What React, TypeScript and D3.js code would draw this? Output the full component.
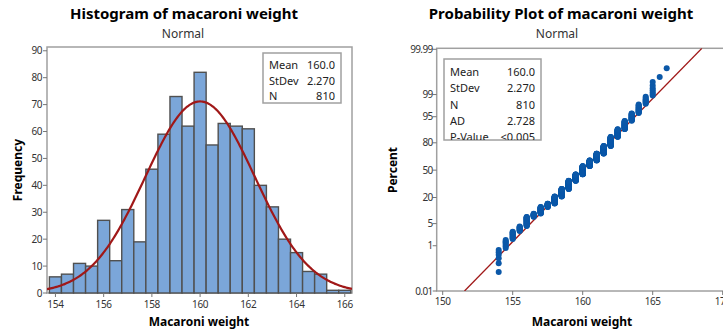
import * as d3 from "d3";
import React, { useEffect } from "react";

// histogram bins (centres every 0.5) and their counts
const binCenters = [154, 154.5, 155, 155.5, 156, 156.5, 157, 157.5, 158, 158.5, 159, 159.5, 160,
  160.5, 161, 161.5, 162, 162.5, 163, 163.5, 164, 164.5, 165, 165.5, 166];
const binCounts = [6, 7, 11, 10, 27, 12, 31, 19, 46, 59, 73, 62, 82,
  55, 63, 62, 61, 40, 32, 20, 15, 8, 7, 1, 1];
const binWidth = 0.5;

const statLabels = ["Mean", "StDev", "N"];
const statValues = ["160.0", "2.270", "810"];
const probLabels = ["Mean", "StDev", "N", "AD", "P-Value"];
const probValues = ["160.0", "2.270", "810", "2.728", "<0.005"];

const mean = 160.0;
const sd = 2.27;
const total = 810;

const histXTicks = [154, 156, 158, 160, 162, 164, 166];
const histYTicks = [0, 10, 20, 30, 40, 50, 60, 70, 80, 90];
const probXTicks = [150, 155, 160, 165, 170];
const probYTicks = [0.01, 1, 5, 20, 50, 80, 95, 99, 99.99];

const FONT = "'Noto Sans', 'Open Sans', sans-serif";
const FRAME = "#a0a0a0";
const RED = "#a01818";
const BLUE = "#0b58a8";

// inverse normal cdf (Acklam)
function qnorm(p: number) {
  const a = [-39.69683028665376, 220.9460984245205, -275.9285104469687, 138.357751867269, -30.66479806614716, 2.506628277459239];
  const b = [-54.47609879822406, 161.5858368580409, -155.6989798598866, 66.80131188771972, -13.28068155288572];
  const c = [-0.007784894002430293, -0.3223964580411365, -2.400758277161838, -2.549732539343734, 4.374664141464968, 2.938163982698783];
  const d = [0.007784695709041462, 0.3224671290700398, 2.445134137142996, 3.754408661907416];
  const pl = 0.02425;
  if (p < pl) {
    const q = Math.sqrt(-2 * Math.log(p));
    return (((((c[0] * q + c[1]) * q + c[2]) * q + c[3]) * q + c[4]) * q + c[5]) / ((((d[0] * q + d[1]) * q + d[2]) * q + d[3]) * q + 1);
  }
  if (p > 1 - pl) {
    const q = Math.sqrt(-2 * Math.log(1 - p));
    return -(((((c[0] * q + c[1]) * q + c[2]) * q + c[3]) * q + c[4]) * q + c[5]) / ((((d[0] * q + d[1]) * q + d[2]) * q + d[3]) * q + 1);
  }
  const q = p - 0.5;
  const r = q * q;
  return (((((a[0] * r + a[1]) * r + a[2]) * r + a[3]) * r + a[4]) * r + a[5]) * q / (((((b[0] * r + b[1]) * r + b[2]) * r + b[3]) * r + b[4]) * r + 1);
}

function Histogram() {
  const left = 47, right = 352, top = 47, bottom = 293;
  const x = d3.scaleLinear().domain([153.65, 166.3]).range([left, right]);
  const y = d3.scaleLinear().domain([0, 91.4]).range([bottom, top]);
  const pdf = (v: number) => total * binWidth * Math.exp(-0.5 * ((v - mean) / sd) ** 2) / (sd * Math.sqrt(2 * Math.PI));
  const curvePts = d3.range(153.65, 166.31, 0.05);
  const curve = d3.line<number>().x((v) => x(v)).y((v) => y(pdf(v)))(curvePts);

  return (
    <g fontFamily={FONT}>
      <text x={184} y={19} textAnchor="middle" fontWeight="bold" fontSize={15}>Histogram of macaroni weight</text>
      <text x={183} y={38} textAnchor="middle" fontSize={12} fill="#333">Normal</text>
      <rect x={left} y={top} width={right - left} height={bottom - top} fill="white" stroke={FRAME} strokeWidth={1.5} />
      <clipPath id="hclip"><rect x={left} y={top} width={right - left} height={bottom - top} /></clipPath>
      {binCenters.map((c, i) => (
        <rect key={i} x={x(c - binWidth / 2)} y={y(binCounts[i])}
          width={x(c + binWidth / 2) - x(c - binWidth / 2)} height={y(0) - y(binCounts[i])}
          fill="#7ba6d9" stroke="#505050" strokeWidth={1.4} />
      ))}
      <path d={curve || ""} fill="none" stroke={RED} strokeWidth={2.2} clipPath="url(#hclip)" />
      {histYTicks.map((t) => (
        <g key={t}>
          <line x1={left - 4} x2={left} y1={y(t)} y2={y(t)} stroke="#777" />
          <text x={left - 5} y={y(t) + 3.5} textAnchor="end" fontSize={10} fill="#333" letterSpacing={-0.5}>{t}</text>
        </g>
      ))}
      {histXTicks.map((t) => (
        <g key={t}>
          <line x1={x(t)} x2={x(t)} y1={bottom} y2={bottom + 4} stroke="#777" />
          <text x={x(t)} y={bottom + 15} textAnchor="middle" fontSize={10} fill="#333" letterSpacing={-0.3}>{t}</text>
        </g>
      ))}
      <text x={199} y={326} textAnchor="middle" fontWeight="bold" fontSize={12}>Macaroni weight</text>
      <text transform="translate(22,170) rotate(-90)" textAnchor="middle" fontWeight="bold" fontSize={12}>Frequency</text>
      <rect x={263} y={53} width={78} height={50} fill="white" stroke={FRAME} strokeWidth={1.5} />
      {statLabels.map((l, i) => (
        <g key={l} fontSize={11} fill="#222">
          <text x={269} y={69 + i * 15.5}>{l}</text>
          <text x={335} y={69 + i * 15.5} textAnchor="end">{statValues[i]}</text>
        </g>
      ))}
    </g>
  );
}

function ProbPlot() {
  const left = 436.7, top = 48.3, bottom = 291, right = 745;
  const x = d3.scaleLinear().domain([150, 170]).range([442.7, 722.7]);
  const y = d3.scaleLinear().domain([qnorm(0.0001), 3.75]).range([bottom, top]);

  // each observation plotted at its bin value, median ranks
  const pts: { v: number; z: number }[] = [];
  let rank = 0;
  binCenters.forEach((c, i) => {
    for (let k = 0; k < binCounts[i]; k++) {
      rank += 1;
      pts.push({ v: c, z: qnorm((rank - 0.3) / (total + 0.4)) });
    }
  });
  const zLo = qnorm(0.0001);
  const fitLine = [mean + zLo * sd, mean + 3.75 * sd];

  return (
    <g fontFamily={FONT}>
      <text x={561} y={19} textAnchor="middle" fontWeight="bold" fontSize={15}>Probability Plot of macaroni weight</text>
      <text x={557} y={38} textAnchor="middle" fontSize={12} fill="#333">Normal</text>
      <rect x={left} y={top} width={right - left} height={bottom - top} fill="white" stroke={FRAME} strokeWidth={1.5} />
      <clipPath id="pclip"><rect x={left} y={top} width={right - left} height={bottom - top} /></clipPath>
      <g clipPath="url(#pclip)">
        <line x1={x(fitLine[0])} y1={y(zLo)} x2={x(fitLine[1])} y2={y(3.75)} stroke={RED} strokeWidth={1.3} />
        {pts.map((p, i) => (
          <circle key={i} cx={x(p.v)} cy={y(p.z)} r={3} fill={BLUE} />
        ))}
      </g>
      {probYTicks.map((t) => (
        <g key={t}>
          <line x1={left - 4} x2={left} y1={y(qnorm(t / 100))} y2={y(qnorm(t / 100))} stroke="#777" />
          <text x={left - 4} y={y(qnorm(t / 100)) + 3.5} textAnchor="end" fontSize={10} fill="#333" letterSpacing={-0.6}>{t}</text>
        </g>
      ))}
      {probXTicks.map((t) => (
        <g key={t}>
          <line x1={x(t)} x2={x(t)} y1={bottom} y2={bottom + 4} stroke="#777" />
          <text x={x(t)} y={bottom + 14} textAnchor="middle" fontSize={10} fill="#333" letterSpacing={-0.4}>{t}</text>
        </g>
      ))}
      <text x={582} y={326} textAnchor="middle" fontWeight="bold" fontSize={12}>Macaroni weight</text>
      <text transform="translate(397,170) rotate(-90)" textAnchor="middle" fontWeight="bold" fontSize={12}>Percent</text>
      <clipPath id="lclip"><rect x={444} y={59} width={97} height={81} /></clipPath>
      <rect x={444} y={59} width={97} height={81} fill="white" stroke={FRAME} strokeWidth={1.5} />
      <g clipPath="url(#lclip)">
        {probLabels.map((l, i) => (
          <g key={l} fontSize={11} fill="#222">
            <text x={450} y={76 + i * 16.3}>{l}</text>
            <text x={535} y={76 + i * 16.3} textAnchor="end">{probValues[i]}</text>
          </g>
        ))}
      </g>
    </g>
  );
}

export default function App() {
  useEffect(() => {
    document.body.style.margin = "0";
  }, []);
  return (
    <svg width={723} height={330} style={{ display: "block", background: "white" }}>
      <Histogram />
      <ProbPlot />
    </svg>
  );
}
